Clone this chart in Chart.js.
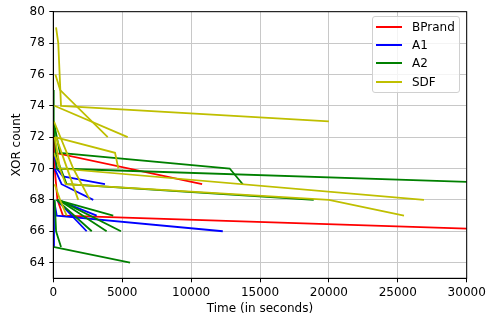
<!DOCTYPE html>
<html>
<head>
<meta charset="utf-8">
<script src="https://cdn.jsdelivr.net/npm/chart.js@4.4.1/dist/chart.umd.min.js"></script>
<style>
    body { margin: 0; background: #fff; }
    #wrap { position: relative; width: 489px; height: 322px; }
    #legend {
        position: absolute; left: 372px; top: 16px; width: 86px; height: 74px;
        border: 1px solid #d0d0d0; border-radius: 3px; background: rgba(255,255,255,0.8);
        font-family: 'DejaVu Sans', sans-serif; font-size: 12px; color: #000;
        padding-top: 1px; box-sizing: content-box;
    }
    .item { height: 18.2px; display: flex; align-items: center; }
    .swatch { width: 26px; height: 2px; margin-left: 3px; margin-right: 10px; }
</style>
</head>
<body>
<div id="wrap">
    <canvas id="chart" width="489" height="322"></canvas>
    <div id="legend"></div>
</div>
<script>
// Runs: each run is a list of [time in seconds, XOR count]
const bprandRuns = [
    [[0, 73], [120, 71], [10800, 69]],
    [[0, 72], [100, 70], [300, 68], [700, 67], [35800, 66]]
];

const a1Runs = [
    [[50, 71], [250, 70], [700, 69.5], [3750, 69]],
    [[100, 70], [600, 69], [2900, 68]],
    [[50, 68], [250, 67], [12300, 66]],
    [[250, 68], [2420, 66]],
    [[300, 68], [3150, 67]],
    [[0, 68], [50, 65]]
];

const a2Runs = [
    [[0, 75], [30, 73], [480, 71], [12800, 70], [13750, 69]],
    [[50, 73], [245, 70], [35000, 69]],
    [[100, 71], [970, 69], [18900, 68]],
    [[250, 68], [4350, 67]],
    [[250, 68], [2790, 66]],
    [[400, 68], [3870, 66]],
    [[400, 68], [4910, 66]],
    [[0, 65], [5570, 64]],
    [[100, 68], [200, 66], [560, 65]]
];

const sdfRuns = [
    [[200, 79], [360, 78], [560, 74], [20000, 73]],
    [[150, 76], [500, 75], [3950, 72]],
    [[80, 74], [5400, 72]],
    [[120, 72], [4480, 71], [4720, 70]],
    [[100, 72], [490, 70], [26900, 68]],
    [[50, 71], [900, 69], [20000, 68], [25450, 67]],
    [[50, 73], [1450, 70], [2660, 68]],
    [[200, 72], [1810, 68]],
    [[100, 69], [490, 68], [970, 67]]
];

const seriesNames = ['BPrand', 'A1', 'A2', 'SDF'];
const seriesColors = ['#ff0000', '#0000ff', '#008000', '#bfbf00'];
const yTicks = [64, 66, 68, 70, 72, 74, 76, 78, 80];
const xTicks = [0, 5000, 10000, 15000, 20000, 25000, 30000];

// Function to turn runs into line datasets
function buildDatasets(runs, color) {
    return runs.map(run => ({
        data: run.map(([t, c]) => ({ x: t, y: c })),
        borderColor: color,
        borderWidth: 1.8,
        pointRadius: 0,
        tension: 0,
        fill: false
    }));
}

// SDF first so it is drawn on top, like the later plot calls
const allRuns = [bprandRuns, a1Runs, a2Runs, sdfRuns];
let datasets = [];
for (let i = allRuns.length - 1; i >= 0; i--) {
    datasets = datasets.concat(buildDatasets(allRuns[i], seriesColors[i]));
}

// Function to draw the top and right spines
const framePlugin = {
    id: 'frame',
    afterDraw(chart) {
        const { ctx, chartArea } = chart;
        ctx.save();
        ctx.strokeStyle = '#000';
        ctx.lineWidth = 1;
        ctx.strokeRect(chartArea.left, chartArea.top, chartArea.right - chartArea.left, chartArea.bottom - chartArea.top);
        ctx.restore();
    }
};

const tickFont = { family: 'DejaVu Sans', size: 12 };

new Chart(document.getElementById('chart').getContext('2d'), {
    type: 'line',
    data: { datasets },
    options: {
        responsive: false,
        devicePixelRatio: 1,
        animation: false,
        layout: { padding: { top: 10.3, right: 22.3, left: 0, bottom: 0 } },
        plugins: { legend: { display: false }, tooltip: { enabled: false } },
        scales: {
            x: {
                type: 'linear',
                min: 0,
                max: 30000,
                afterBuildTicks: scale => { scale.ticks = xTicks.map(v => ({ value: v })); },
                afterFit: scale => { scale.height = 43.7; },
                grid: { color: '#c8c8c8', lineWidth: 1, tickLength: 4, tickColor: '#000' },
                border: { color: '#000', width: 1 },
                ticks: { font: tickFont, color: '#000', padding: 3, maxRotation: 0, callback: v => String(v) },
                title: { display: true, text: 'Time (in seconds)', font: tickFont, color: '#000', padding: { bottom: 6 } }
            },
            y: {
                min: 63,
                max: 80,
                afterBuildTicks: scale => { scale.ticks = yTicks.map(v => ({ value: v })); },
                afterFit: scale => { scale.width = 53.3; },
                grid: { color: '#c8c8c8', lineWidth: 1, tickLength: 4, tickColor: '#000' },
                border: { color: '#000', width: 1 },
                ticks: { font: tickFont, color: '#000', padding: 4.5, callback: v => String(v) },
                title: { display: true, text: 'XOR count', font: tickFont, color: '#000', padding: { top: 10 } }
            }
        }
    },
    plugins: [framePlugin]
});

// Function to render the legend box
function renderLegend() {
    const legend = document.getElementById('legend');
    seriesNames.forEach((name, i) => {
        const row = document.createElement('div');
        row.className = 'item';
        row.innerHTML = `<span class="swatch" style="background:${seriesColors[i]}"></span><span>${name}</span>`;
        legend.appendChild(row);
    });
}

renderLegend();
</script>
</body>
</html>
